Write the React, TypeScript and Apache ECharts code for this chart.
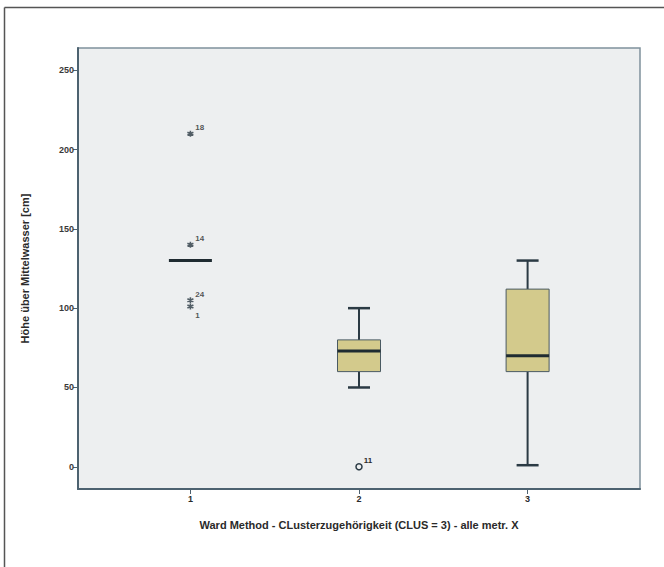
import React, { useEffect, useRef } from "react";
import * as echarts from "echarts";

const groups = [1, 2, 3];
const whiskerLow = [130, 50, 1];
const quartile1 = [130, 60, 60];
const medians = [130, 73, 70];
const quartile3 = [130, 80, 112];
const whiskerHigh = [130, 100, 130];

const extremeX = [1, 1, 1, 1];
const extremeY = [210, 140, 105, 101];
const extremeIds = ["18", "14", "24", "1"];

const outlierX = [2];
const outlierY = [0];
const outlierIds = ["11"];

const yTicks = [0, 50, 100, 150, 200, 250];
const xTicks = [1, 2, 3];

const LINE = "#2b3a44";
const BOX_FILL = "#d3ca8c";
const TEXT = "#2a2a2a";
const FONT = "Liberation Sans, Arial, sans-serif";

const asterisk =
  "path://M5 0 L5 10 M0.7 2.5 L9.3 7.5 M9.3 2.5 L0.7 7.5";

export default function App() {
  const ref = useRef<HTMLDivElement>(null);

  useEffect(() => {
    document.body.style.margin = "0";
    if (!ref.current) return;
    const chart = echarts.init(ref.current, null, { renderer: "svg" });

    const boxData = groups.map((g, i) => [
      g,
      whiskerLow[i],
      quartile1[i],
      medians[i],
      quartile3[i],
      whiskerHigh[i],
    ]);

    const pointLabel = {
      show: true,
      position: "right" as const,
      distance: 1,
      formatter: (p: any) => p.name,
      color: TEXT,
      fontSize: 8,
      fontWeight: "bold" as const,
      fontFamily: FONT,
    };

    const extremeData = extremeX.map((x, i) => ({
      value: [x, extremeY[i]],
      name: extremeIds[i],
      label: {
        ...pointLabel,
        offset: extremeIds[i] === "1" ? [0, 9] : [0, -6],
      },
    }));
    const outlierData = outlierX.map((x, i) => ({
      value: [x, outlierY[i]],
      name: outlierIds[i],
      label: { ...pointLabel, offset: [0, -6] },
    }));

    chart.setOption({
      animation: false,
      backgroundColor: "#ffffff",
      graphic: [
        {
          type: "line",
          shape: { x1: 4.5, y1: 7.5, x2: 664, y2: 7.5 },
          style: { stroke: "#555", lineWidth: 1.5 },
          silent: true,
        },
        {
          type: "line",
          shape: { x1: 4.5, y1: 7.5, x2: 4.5, y2: 567 },
          style: { stroke: "#555", lineWidth: 1.5 },
          silent: true,
        },
      ],
      grid: {
        left: 78,
        top: 48,
        width: 562,
        height: 441,
        show: true,
        backgroundColor: "#edeff0",
        borderColor: "#7f919c",
        borderWidth: 1.5,
      },
      xAxis: {
        type: "value",
        min: 1 / 3,
        max: 11 / 3,
        name: "Ward Method - CLusterzugehörigkeit (CLUS = 3) - alle metr. X",
        nameLocation: "middle",
        nameGap: 30,
        nameTextStyle: {
          color: TEXT,
          fontSize: 11,
          fontWeight: "bold",
          fontFamily: FONT,
        },
        splitLine: { show: false },
        axisLine: {
          show: true,
          onZero: false,
          lineStyle: { color: "#4d6270", width: 2 },
        },
        axisTick: {
          show: true,
          customValues: xTicks,
          length: 5,
          lineStyle: { color: "#4d6270", width: 1 },
        },
        axisLabel: {
          customValues: xTicks,
          color: TEXT,
          fontSize: 9,
          fontWeight: "bold",
          fontFamily: FONT,
          margin: 5,
        },
      },
      yAxis: {
        type: "value",
        min: -14,
        max: 264,
        name: "Höhe über Mittelwasser [cm]",
        nameLocation: "middle",
        nameGap: 48,
        nameTextStyle: {
          color: TEXT,
          fontSize: 11,
          fontWeight: "bold",
          fontFamily: FONT,
        },
        splitLine: { show: false },
        axisLine: {
          show: true,
          onZero: false,
          lineStyle: { color: "#4d6270", width: 2 },
        },
        axisTick: {
          show: true,
          customValues: yTicks,
          length: 5,
          lineStyle: { color: "#4d6270", width: 1 },
        },
        axisLabel: {
          customValues: yTicks,
          color: "#3a3a3a",
          fontSize: 9,
          fontWeight: "bold",
          fontFamily: FONT,
          margin: 4,
        },
      },
      series: [
        {
          type: "custom",
          data: boxData,
          encode: { x: 0, y: [1, 2, 3, 4, 5] },
          renderItem: (_params: any, api: any) => {
            const x = api.value(0);
            const lo = api.coord([x, api.value(1)]);
            const q1 = api.coord([x, api.value(2)]);
            const md = api.coord([x, api.value(3)]);
            const q3 = api.coord([x, api.value(4)]);
            const hi = api.coord([x, api.value(5)]);
            const cx = lo[0];
            const half = 21.5;
            const cap = 11;
            const children: any[] = [
              {
                type: "line",
                shape: { x1: cx, y1: q3[1], x2: cx, y2: hi[1] },
                style: { stroke: LINE, lineWidth: 2 },
              },
              {
                type: "line",
                shape: { x1: cx, y1: q1[1], x2: cx, y2: lo[1] },
                style: { stroke: LINE, lineWidth: 2 },
              },
              {
                type: "line",
                shape: { x1: cx - cap, y1: hi[1], x2: cx + cap, y2: hi[1] },
                style: { stroke: LINE, lineWidth: 2.5 },
              },
              {
                type: "line",
                shape: { x1: cx - cap, y1: lo[1], x2: cx + cap, y2: lo[1] },
                style: { stroke: LINE, lineWidth: 2.5 },
              },
            ];
            if (q1[1] - q3[1] > 0.5) {
              children.push({
                type: "rect",
                shape: {
                  x: cx - half,
                  y: q3[1],
                  width: half * 2,
                  height: q1[1] - q3[1],
                },
                style: { fill: BOX_FILL, stroke: "#4a5a62", lineWidth: 1 },
              });
            }
            children.push({
              type: "line",
              shape: { x1: cx - half, y1: md[1], x2: cx + half, y2: md[1] },
              style: { stroke: "#1f2b31", lineWidth: 3 },
            });
            return { type: "group", children };
          },
          z: 2,
        },
        {
          type: "scatter",
          data: extremeData,
          symbol: asterisk,
          symbolSize: 6,
          itemStyle: {
            color: "#2b3a44",
            borderColor: "#2b3a44",
            borderWidth: 1.6,
          },
          z: 3,
        },
        {
          type: "scatter",
          data: outlierData,
          symbol: "circle",
          symbolSize: 6,
          itemStyle: {
            color: "#edeff0",
            borderColor: "#2b3a44",
            borderWidth: 1.5,
            opacity: 1,
          },
          z: 3,
        },
      ],
    });

    return () => chart.dispose();
  }, []);

  return <div ref={ref} style={{ width: 664, height: 567 }} />;
}
